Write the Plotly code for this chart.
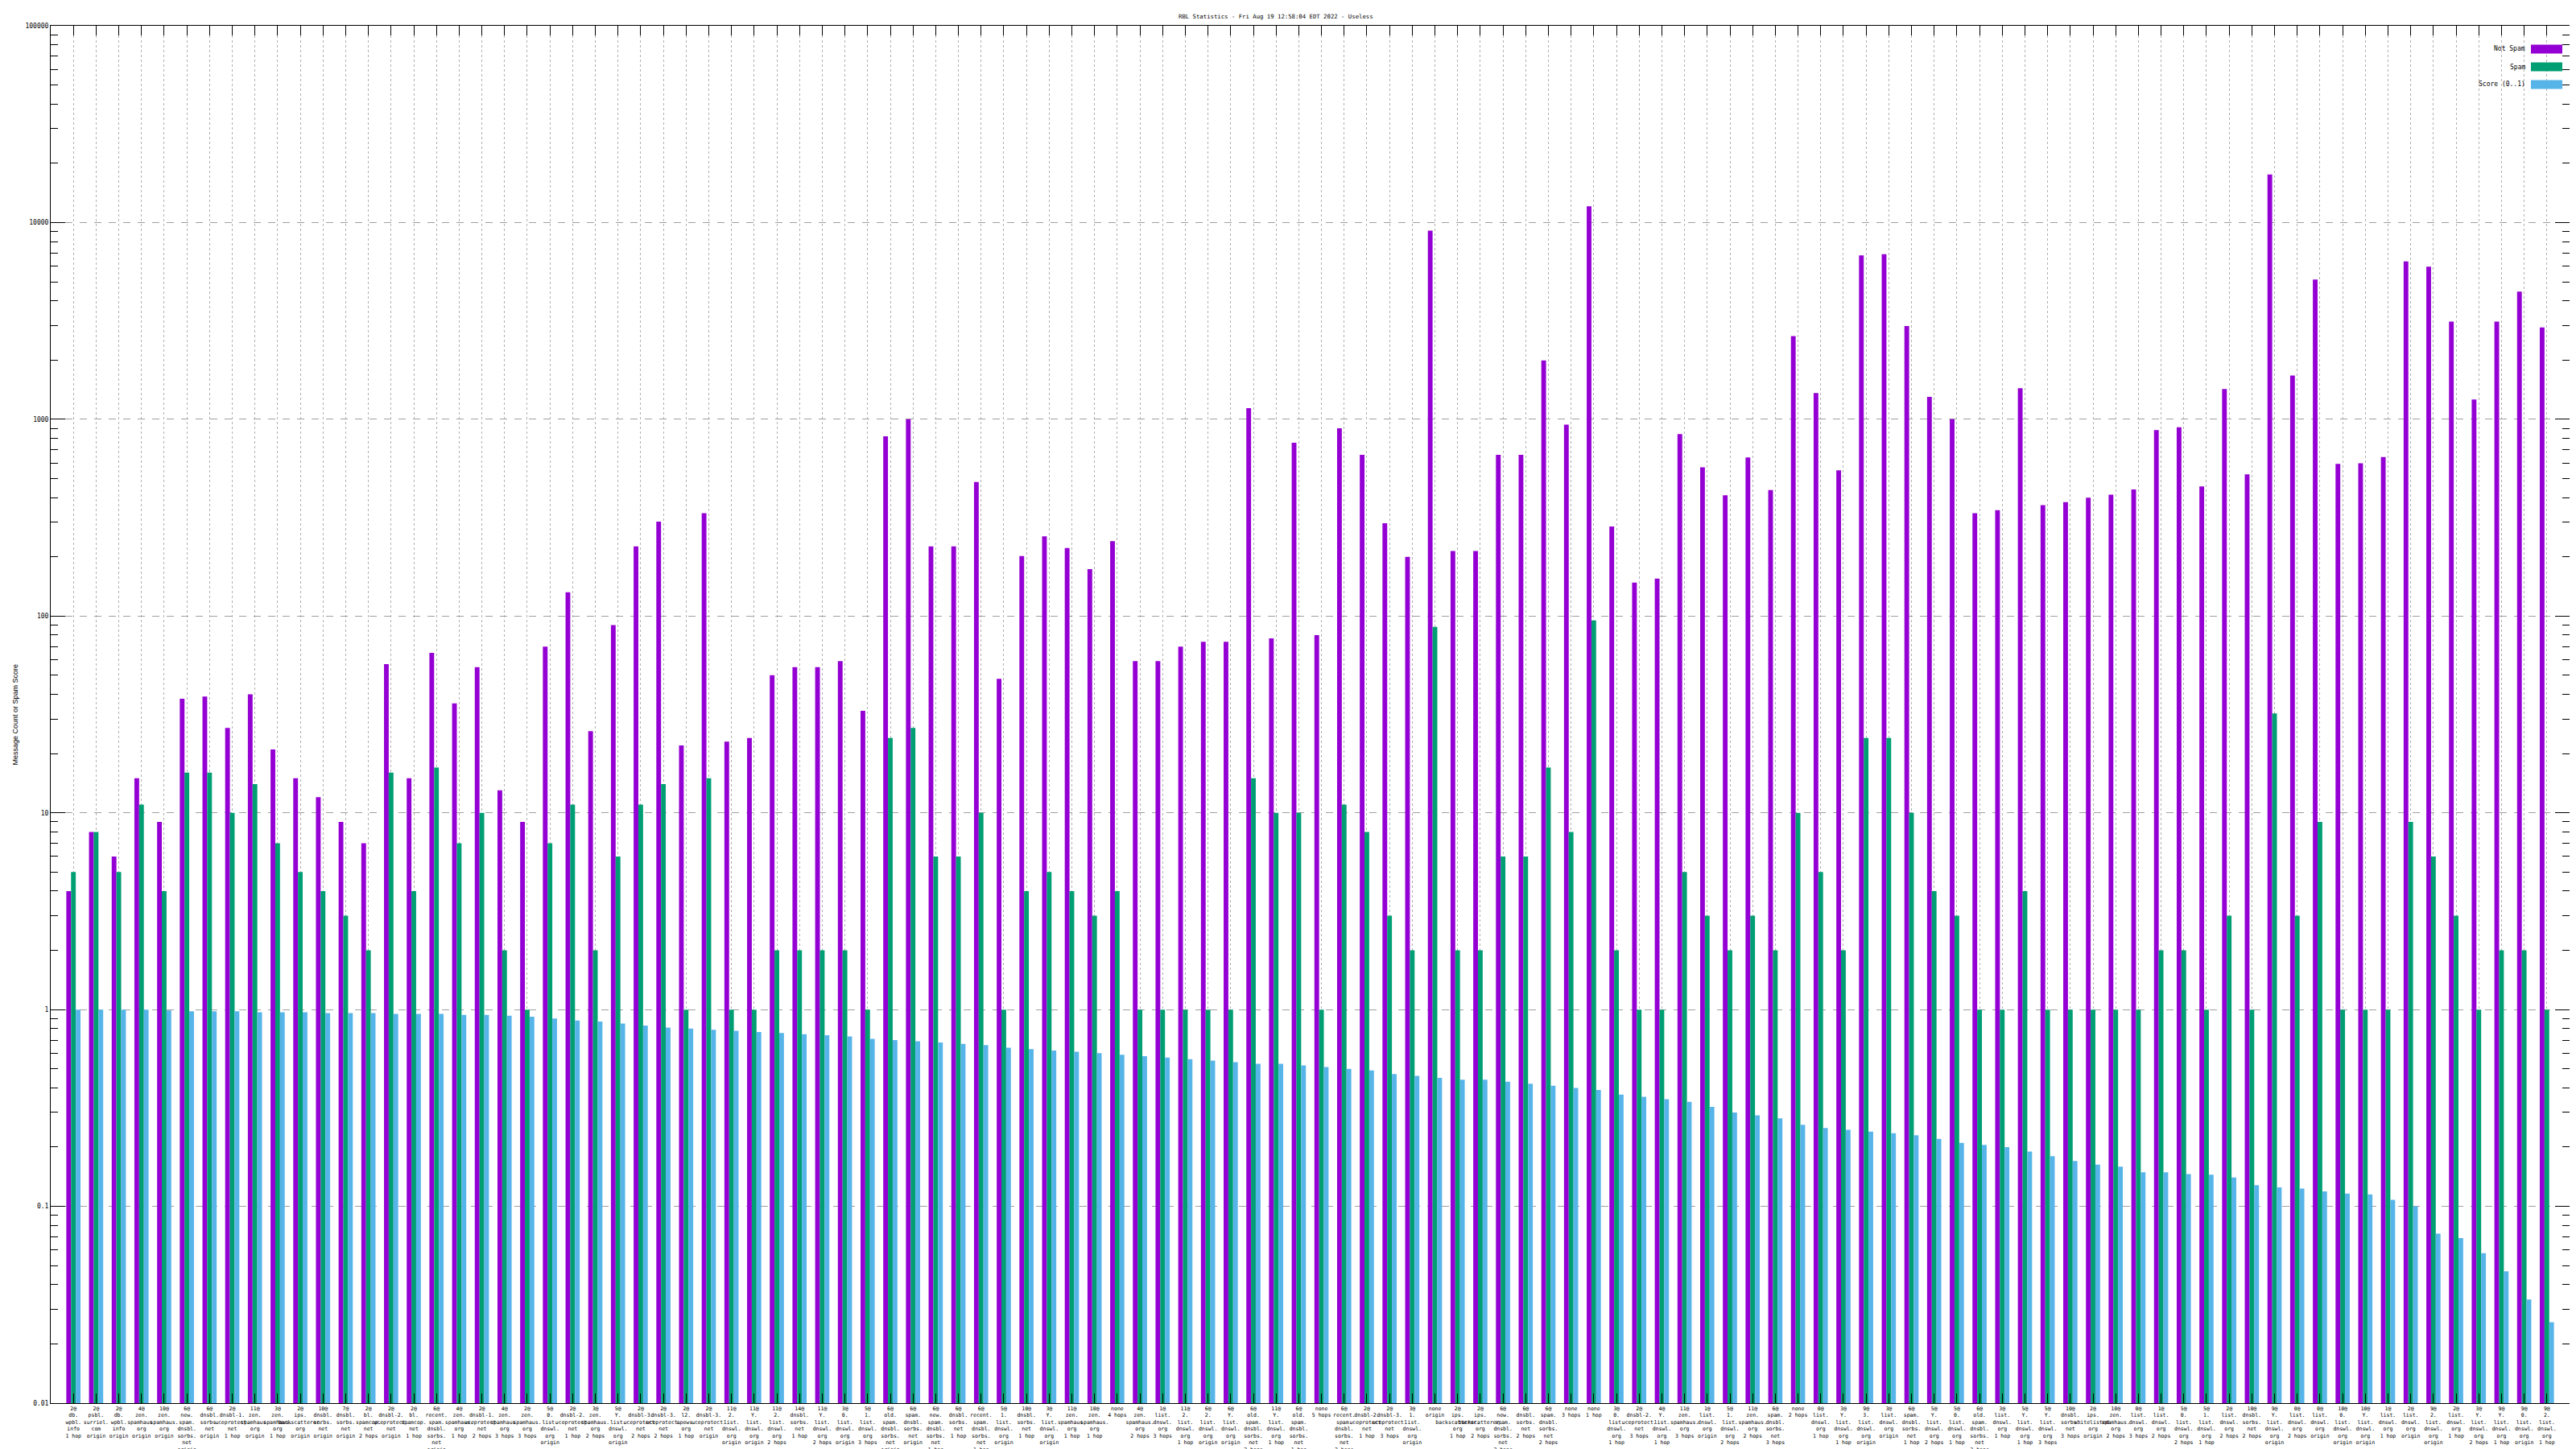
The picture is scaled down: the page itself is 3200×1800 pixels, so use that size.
import plotly.graph_objects as go

# ---------------- data ----------------
prefixes = [
    "2@", "2@", "2@", "4@", "10@", "6@", "6@", "2@", "11@", "3@", "2@", "10@", "7@", "2@",
    "2@", "2@", "6@", "4@", "2@", "4@", "2@", "5@", "2@", "3@", "5@", "2@", "2@", "2@",
    "2@", "11@", "11@", "11@", "14@", "11@", "3@", "5@", "6@", "6@", "6@", "6@", "6@", "5@",
    "10@", "3@", "11@", "10@", "none", "4@", "1@", "11@", "6@", "6@", "6@", "11@", "6@", "none",
    "6@", "2@", "2@", "3@", "none", "2@", "2@", "6@", "6@", "6@", "none", "none", "3@", "2@",
    "4@", "11@", "1@", "5@", "11@", "6@", "none", "0@", "3@", "9@", "3@", "6@", "5@", "5@",
    "6@", "3@", "5@", "5@", "10@", "2@", "10@", "0@", "1@", "5@", "5@", "2@", "10@", "9@",
    "0@", "0@", "10@", "10@", "1@", "2@", "9@", "2@", "3@", "9@", "9@", "9@",
]
hosts = [
    "db.wpbl.info", "psbl.surriel.com", "db.wpbl.info", "zen.spamhaus.org", "zen.spamhaus.org",
    "new.spam.dnsbl.sorbs.net", "dnsbl.sorbs.net", "dnsbl-1.uceprotect.net", "zen.spamhaus.org",
    "zen.spamhaus.org", "ips.backscatterer.org", "dnsbl.sorbs.net", "dnsbl.sorbs.net", "bl.spamcop.net",
    "dnsbl-2.uceprotect.net", "bl.spamcop.net", "recent.spam.dnsbl.sorbs.net", "zen.spamhaus.org",
    "dnsbl-1.uceprotect.net", "zen.spamhaus.org", "zen.spamhaus.org", "0.list.dnswl.org",
    "dnsbl-2.uceprotect.net", "zen.spamhaus.org", "Y.list.dnswl.org", "dnsbl-3.uceprotect.net",
    "dnsbl-3.uceprotect.net", "l2.apews.org",
    "dnsbl-3.uceprotect.net", "2.list.dnswl.org", "Y.list.dnswl.org", "2.list.dnswl.org",
    "dnsbl.sorbs.net", "Y.list.dnswl.org", "0.list.dnswl.org", "1.list.dnswl.org",
    "old.spam.dnsbl.sorbs.net", "spam.dnsbl.sorbs.net", "new.spam.dnsbl.sorbs.net",
    "dnsbl.sorbs.net", "recent.spam.dnsbl.sorbs.net", "1.list.dnswl.org",
    "dnsbl.sorbs.net", "Y.list.dnswl.org", "zen.spamhaus.org", "zen.spamhaus.org", "",
    "zen.spamhaus.org", "list.dnswl.org", "2.list.dnswl.org", "2.list.dnswl.org",
    "Y.list.dnswl.org", "old.spam.dnsbl.sorbs.net", "Y.list.dnswl.org",
    "old.spam.dnsbl.sorbs.net", "",
    "recent.spam.dnsbl.sorbs.net", "dnsbl-2.uceprotect.net", "dnsbl-3.uceprotect.net",
    "1.list.dnswl.org", "", "ips.backscatterer.org", "ips.backscatterer.org",
    "new.spam.dnsbl.sorbs.net", "dnsbl.sorbs.net", "spam.dnsbl.sorbs.net", "", "",
    "0.list.dnswl.org", "dnsbl-2.uceprotect.net",
    "Y.list.dnswl.org", "zen.spamhaus.org", "list.dnswl.org", "1.list.dnswl.org",
    "zen.spamhaus.org", "spam.dnsbl.sorbs.net", "", "list.dnswl.org", "Y.list.dnswl.org",
    "3.list.dnswl.org", "list.dnswl.org", "spam.dnsbl.sorbs.net", "Y.list.dnswl.org",
    "0.list.dnswl.org",
    "old.spam.dnsbl.sorbs.net", "list.dnswl.org", "Y.list.dnswl.org", "Y.list.dnswl.org",
    "dnsbl.sorbs.net", "ips.whitelisted.org", "zen.spamhaus.org", "list.dnswl.org",
    "list.dnswl.org", "0.list.dnswl.org", "1.list.dnswl.org", "list.dnswl.org",
    "dnsbl.sorbs.net", "Y.list.dnswl.org",
    "list.dnswl.org", "list.dnswl.org", "0.list.dnswl.org", "Y.list.dnswl.org",
    "list.dnswl.org", "list.dnswl.org", "2.list.dnswl.org", "list.dnswl.org",
    "Y.list.dnswl.org", "Y.list.dnswl.org", "0.list.dnswl.org", "2.list.dnswl.org",
]
hops = [
    "1 hop", "origin", "origin", "origin", "origin", "origin", "origin", "1 hop", "origin", "1 hop",
    "origin", "origin", "origin", "2 hops",
    "origin", "1 hop", "origin", "1 hop", "2 hops", "3 hops", "3 hops", "origin", "1 hop", "2 hops",
    "origin", "2 hops", "2 hops", "1 hop",
    "origin", "origin", "origin", "2 hops", "1 hop", "2 hops", "origin", "3 hops", "origin", "origin",
    "1 hop", "1 hop", "1 hop", "origin",
    "1 hop", "origin", "1 hop", "1 hop", "4 hops", "2 hops", "3 hops", "1 hop", "origin", "origin",
    "2 hops", "1 hop", "1 hop", "5 hops",
    "2 hops", "1 hop", "3 hops", "origin", "origin", "1 hop", "2 hops", "2 hops", "2 hops", "2 hops",
    "3 hops", "1 hop", "1 hop", "3 hops",
    "1 hop", "3 hops", "origin", "2 hops", "2 hops", "3 hops", "2 hops", "1 hop", "1 hop", "origin",
    "origin", "1 hop", "2 hops", "1 hop",
    "3 hops", "1 hop", "1 hop", "3 hops", "3 hops", "origin", "2 hops", "3 hops", "2 hops", "2 hops",
    "1 hop", "2 hops", "2 hops", "origin",
    "2 hops", "origin", "origin", "origin", "1 hop", "origin", "origin", "1 hop", "2 hops", "1 hop",
    "origin", "1 hop",
]

not_spam = [
    4, 8, 6, 15, 9, 38, 39, 27, 40, 21, 15, 12, 9, 7,
    57, 15, 65, 36, 55, 13, 9, 70, 132, 26, 90, 226, 302, 22,
    333, 23, 24, 50, 55, 55, 59, 33, 820, 1000, 226, 226, 480, 48,
    202, 254, 222, 173, 240, 59, 59, 70, 74, 74, 1140, 77, 760, 80,
    900, 660, 296, 200, 9100, 214, 214, 660, 660, 1990, 940, 12100, 285, 148,
    155, 840, 570, 411, 640, 437, 2650, 1360, 550, 6800, 6900, 2980, 1300, 1000,
    333, 345, 1440, 366, 379, 400, 414, 440, 881, 912, 456, 1426, 525, 17530,
    1670, 5130, 593, 598, 643, 6340, 5960, 3140, 1262, 3140, 4460, 2930,
]
spam = [
    5, 8, 5, 11, 4, 16, 16, 10, 14, 7, 5, 4, 3, 2,
    16, 4, 17, 7, 10, 2, 1, 7, 11, 2, 6, 11, 14, 1,
    15, 1, 1, 2, 2, 2, 2, 1, 24, 27, 6, 6, 10, 1,
    4, 5, 4, 3, 4, 1, 1, 1, 1, 1, 15, 10, 10, 1,
    11, 8, 3, 2, 88, 2, 2, 6, 6, 17, 8, 95, 2, 1,
    1, 5, 3, 2, 3, 2, 10, 5, 2, 24, 24, 10, 4, 3,
    1, 1, 4, 1, 1, 1, 1, 1, 2, 2, 1, 3, 1, 32,
    3, 9, 1, 1, 1, 9, 6, 3, 1, 2, 2, 1,
]
score = [
    1.0, 1.0, 1.0, 1.0, 0.99, 0.98, 0.98, 0.98, 0.97, 0.97, 0.97, 0.96, 0.96, 0.96,
    0.95, 0.95, 0.95, 0.94, 0.94, 0.93, 0.92, 0.90, 0.88, 0.87, 0.85, 0.83, 0.81, 0.80,
    0.79, 0.78, 0.77, 0.76, 0.75, 0.74, 0.73, 0.71, 0.70, 0.69, 0.68, 0.67, 0.66, 0.64,
    0.63, 0.62, 0.61, 0.60, 0.59, 0.58, 0.57, 0.56, 0.55, 0.54, 0.53, 0.53, 0.52, 0.51,
    0.50, 0.49, 0.47, 0.46, 0.45, 0.44, 0.44, 0.43, 0.42, 0.41, 0.40, 0.39, 0.37, 0.36,
    0.35, 0.34, 0.32, 0.30, 0.29, 0.28, 0.26, 0.25, 0.245, 0.24, 0.235, 0.23, 0.22, 0.21,
    0.205, 0.20, 0.19, 0.18, 0.170, 0.163, 0.159, 0.149, 0.149, 0.146, 0.145, 0.140, 0.128, 0.125,
    0.123, 0.119, 0.116, 0.115, 0.108, 0.100, 0.0726, 0.0689, 0.0578, 0.0468, 0.0336, 0.0258,
]

series_names = ["Not Spam", "Spam", "Score (0..1)"]
series_colors = ["#9400D3", "#009E73", "#56B4E9"]
title_text = "RBL Statistics - Fri Aug 19 12:58:04 EDT 2022 - Useless"
y_title = "Message Count or Spam Score"
y_tick_vals = [0.01, 0.1, 1, 10, 100, 1000, 10000, 100000]
y_tick_text = ["0.01", "0.1", "1", "10", "100", "1000", "10000", "100000"]


def make_label(prefix, host, hop):
    lines = [prefix]
    if host:
        parts = host.split(".")
        lines += [p + "." for p in parts[:-1]] + [parts[-1]]
    lines.append(hop)
    return "<br>".join(lines)


labels = [make_label(p, h, o) for p, h, o in zip(prefixes, hosts, hops)]
xs = list(range(len(labels)))

# ---------------- figure ----------------
W, H = 3200, 1800
L, R, T, B = 55, 16, 24, 65
PW, PH = W - L - R, H - T - B

fig = go.Figure()
for name, vals, col in zip(series_names, [not_spam, spam, score], series_colors):
    fig.add_trace(go.Bar(x=xs, y=vals, name=name, marker=dict(color=col, line=dict(width=0)),
                         showlegend=False))

mono = "DejaVu Sans Mono"
fig.update_layout(
    width=W, height=H,
    margin=dict(l=L, r=R, t=T, b=B, autoexpand=False),
    paper_bgcolor="white", plot_bgcolor="white",
    barmode="group", bargap=0.375, bargroupgap=0.0,
    font=dict(family=mono, size=8, color="black"),
    showlegend=False,
)
fig.update_xaxes(
    range=[-1, len(labels)], tickmode="array", tickvals=xs, ticktext=labels,
    tickangle=0, ticks="inside", ticklen=12, tickcolor="black", tickwidth=1,
    showline=True, linecolor="black", linewidth=1, mirror="allticks",
    showgrid=True, gridcolor="#b0b0b0", griddash="dot", gridwidth=1,
    zeroline=False, tickfont=dict(family=mono, size=6.5, color="black"),
    automargin=False,
)
fig.update_yaxes(
    type="log", range=[-2, 5], tickmode="array", tickvals=y_tick_vals, ticktext=y_tick_text,
    ticks="inside", ticklen=18, tickcolor="black", tickwidth=1,
    minor=dict(ticks="inside", ticklen=9, tickcolor="black", dtick="D1", showgrid=False),
    showline=True, linecolor="black", linewidth=1, mirror="allticks",
    showgrid=True, gridcolor="#a0a0a0", griddash="dash", gridwidth=1,
    zeroline=False, tickfont=dict(family=mono, size=8, color="black"),
    automargin=False,
)

# title
fig.add_annotation(text=title_text, xref="paper", yref="paper",
                   x=(1577 - L) / PW, y=(H - B - 12) / PH, xanchor="center", yanchor="middle",
                   showarrow=False, font=dict(family=mono, size=7.3, color="black"))
# y axis title
fig.add_annotation(text=y_title, xref="paper", yref="paper",
                   x=(10 - L) / PW, y=0.5, textangle=-90, xanchor="center", yanchor="middle",
                   showarrow=False, font=dict(family="Liberation Sans Narrow, Liberation Sans", size=9, color="black"))

# custom legend: text right, swatch on the right
legend_y = [53, 75, 97]
for name, col, py in zip(series_names, series_colors, legend_y):
    yp = (H - B - py) / PH
    fig.add_annotation(text=name, xref="paper", yref="paper", x=(3131 - L) / PW, y=yp,
                       xanchor="right", yanchor="middle", showarrow=False,
                       font=dict(family=mono, size=8, color="black"))
    fig.add_shape(type="rect", xref="paper", yref="paper",
                  x0=(3136 - L) / PW, x1=(3175 - L) / PW,
                  y0=(H - B - py - 5.5) / PH, y1=(H - B - py + 5.5) / PH,
                  fillcolor=col, line=dict(width=0))

fig.write_html("out.html")
